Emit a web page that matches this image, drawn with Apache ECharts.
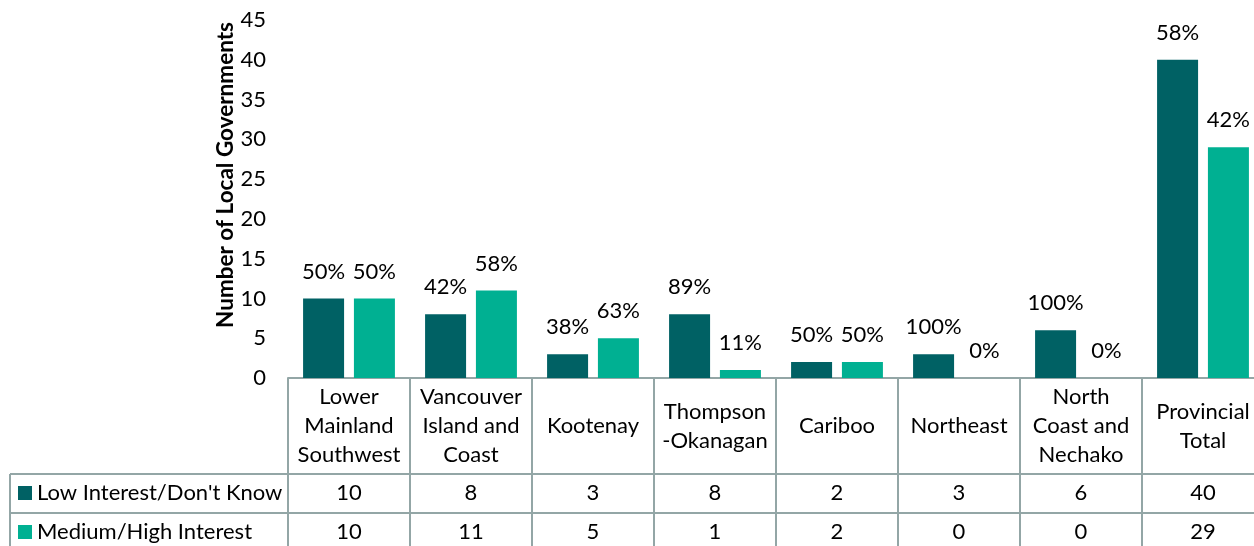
<!DOCTYPE html>
<html><head><meta charset="utf-8">
<script src="https://cdn.jsdelivr.net/npm/echarts@6/dist/echarts.min.js"></script>
<style>html,body{margin:0;padding:0;background:#fff}#c{width:1254px;height:546px}</style>
</head><body><div id="c"></div>
<script>
const categories = ['Lower\nMainland\nSouthwest','Vancouver\nIsland and\nCoast','Kootenay','Thompson\n-Okanagan','Cariboo','Northeast','North\nCoast and\nNechako','Provincial\nTotal'];
const lowValues = [10, 8, 3, 8, 2, 3, 6, 40];
const highValues = [10, 11, 5, 1, 2, 0, 0, 29];
const lowPct = [50, 42, 38, 89, 50, 100, 100, 58];
const highPct = [50, 58, 63, 11, 50, 0, 0, 42];
const seriesNames = ["Low Interest/Don't Know", 'Medium/High Interest'];
const yTicks = {min: 0, max: 45, interval: 5};

const FONT = 'Lato';
const FS = 22;
const BORDER = '#93A6A6';
const DARK = '#006164';
const TEAL = '#00B092';

const chart = echarts.init(document.getElementById('c'), null, {renderer: 'canvas'});
const rowAxis = (data, offset) => ({
  type: 'category', gridIndex: 0, position: 'bottom', offset: offset, data: data,
  axisLine: {show: true, lineStyle: {color: BORDER, width: 2}},
  axisTick: {show: true, interval: 0, length: 40, lineStyle: {color: BORDER, width: 2}},
  axisLabel: {interval: 0, margin: 19, verticalAlign: 'middle', fontFamily: FONT, fontSize: FS, color: '#000'}
});
const legendFor = (name, top) => ({
  orient: 'vertical', left: 18, top: top, padding: 0, itemWidth: 14, itemHeight: 14, itemGap: 0,
  icon: 'rect', data: [name], selectedMode: false,
  textStyle: {fontFamily: FONT, fontSize: FS, color: '#000'}
});
chart.setOption({
  animation: false,
  textStyle: {fontFamily: FONT},
  grid: {left: 288, top: 20, width: 976, height: 358, outerBoundsMode: 'none', containLabel: false},
  legend: [legendFor(seriesNames[0], 482), legendFor(seriesNames[1], 521)],
  xAxis: [
    {
      type: 'category', data: categories,
      axisLine: {show: true, lineStyle: {color: BORDER, width: 2}},
      axisTick: {show: true, interval: 0, length: 96, lineStyle: {color: BORDER, width: 2}},
      axisLabel: {interval: 0, margin: 48, verticalAlign: 'middle', lineHeight: 29, fontFamily: FONT, fontSize: FS, color: '#000'}
    },
    rowAxis(lowValues.map(String), 96),
    rowAxis(highValues.map(String), 135)
  ],
  yAxis: {
    type: 'value', min: yTicks.min, max: yTicks.max, interval: yTicks.interval,
    splitLine: {show: false}, axisLine: {show: false}, axisTick: {show: false},
    axisLabel: {fontFamily: FONT, fontSize: FS, color: '#000', margin: 22},
    name: 'Number of Local Governments', nameLocation: 'middle', nameGap: 51, nameMoveOverlap: false,
    nameTextStyle: {fontFamily: FONT, fontSize: 22.5, fontWeight: 'bold', color: '#000', padding: [0, 0, 0, 48]}
  },
  series: [
    {
      name: seriesNames[0], type: 'bar', data: lowValues, barWidth: 41, barGap: '24%',
      itemStyle: {color: DARK},
      label: {show: true, position: 'top', distance: 16, fontFamily: FONT, fontSize: FS, color: '#000',
        formatter: p => lowPct[p.dataIndex] + '%'}
    },
    {
      name: seriesNames[1], type: 'bar', data: highValues, barWidth: 41,
      itemStyle: {color: TEAL},
      label: {show: true, position: 'top', distance: 16, fontFamily: FONT, fontSize: FS, color: '#000',
        formatter: p => highPct[p.dataIndex] + '%'}
    }
  ],
  graphic: [
    {type: 'line', shape: {x1: 10, y1: 474, x2: 288, y2: 474}, style: {stroke: BORDER, lineWidth: 2}},
    {type: 'line', shape: {x1: 10, y1: 513, x2: 288, y2: 513}, style: {stroke: BORDER, lineWidth: 2}},
    {type: 'line', shape: {x1: 10, y1: 474, x2: 10, y2: 560}, style: {stroke: BORDER, lineWidth: 2}}
  ]
});
</script></body></html>
